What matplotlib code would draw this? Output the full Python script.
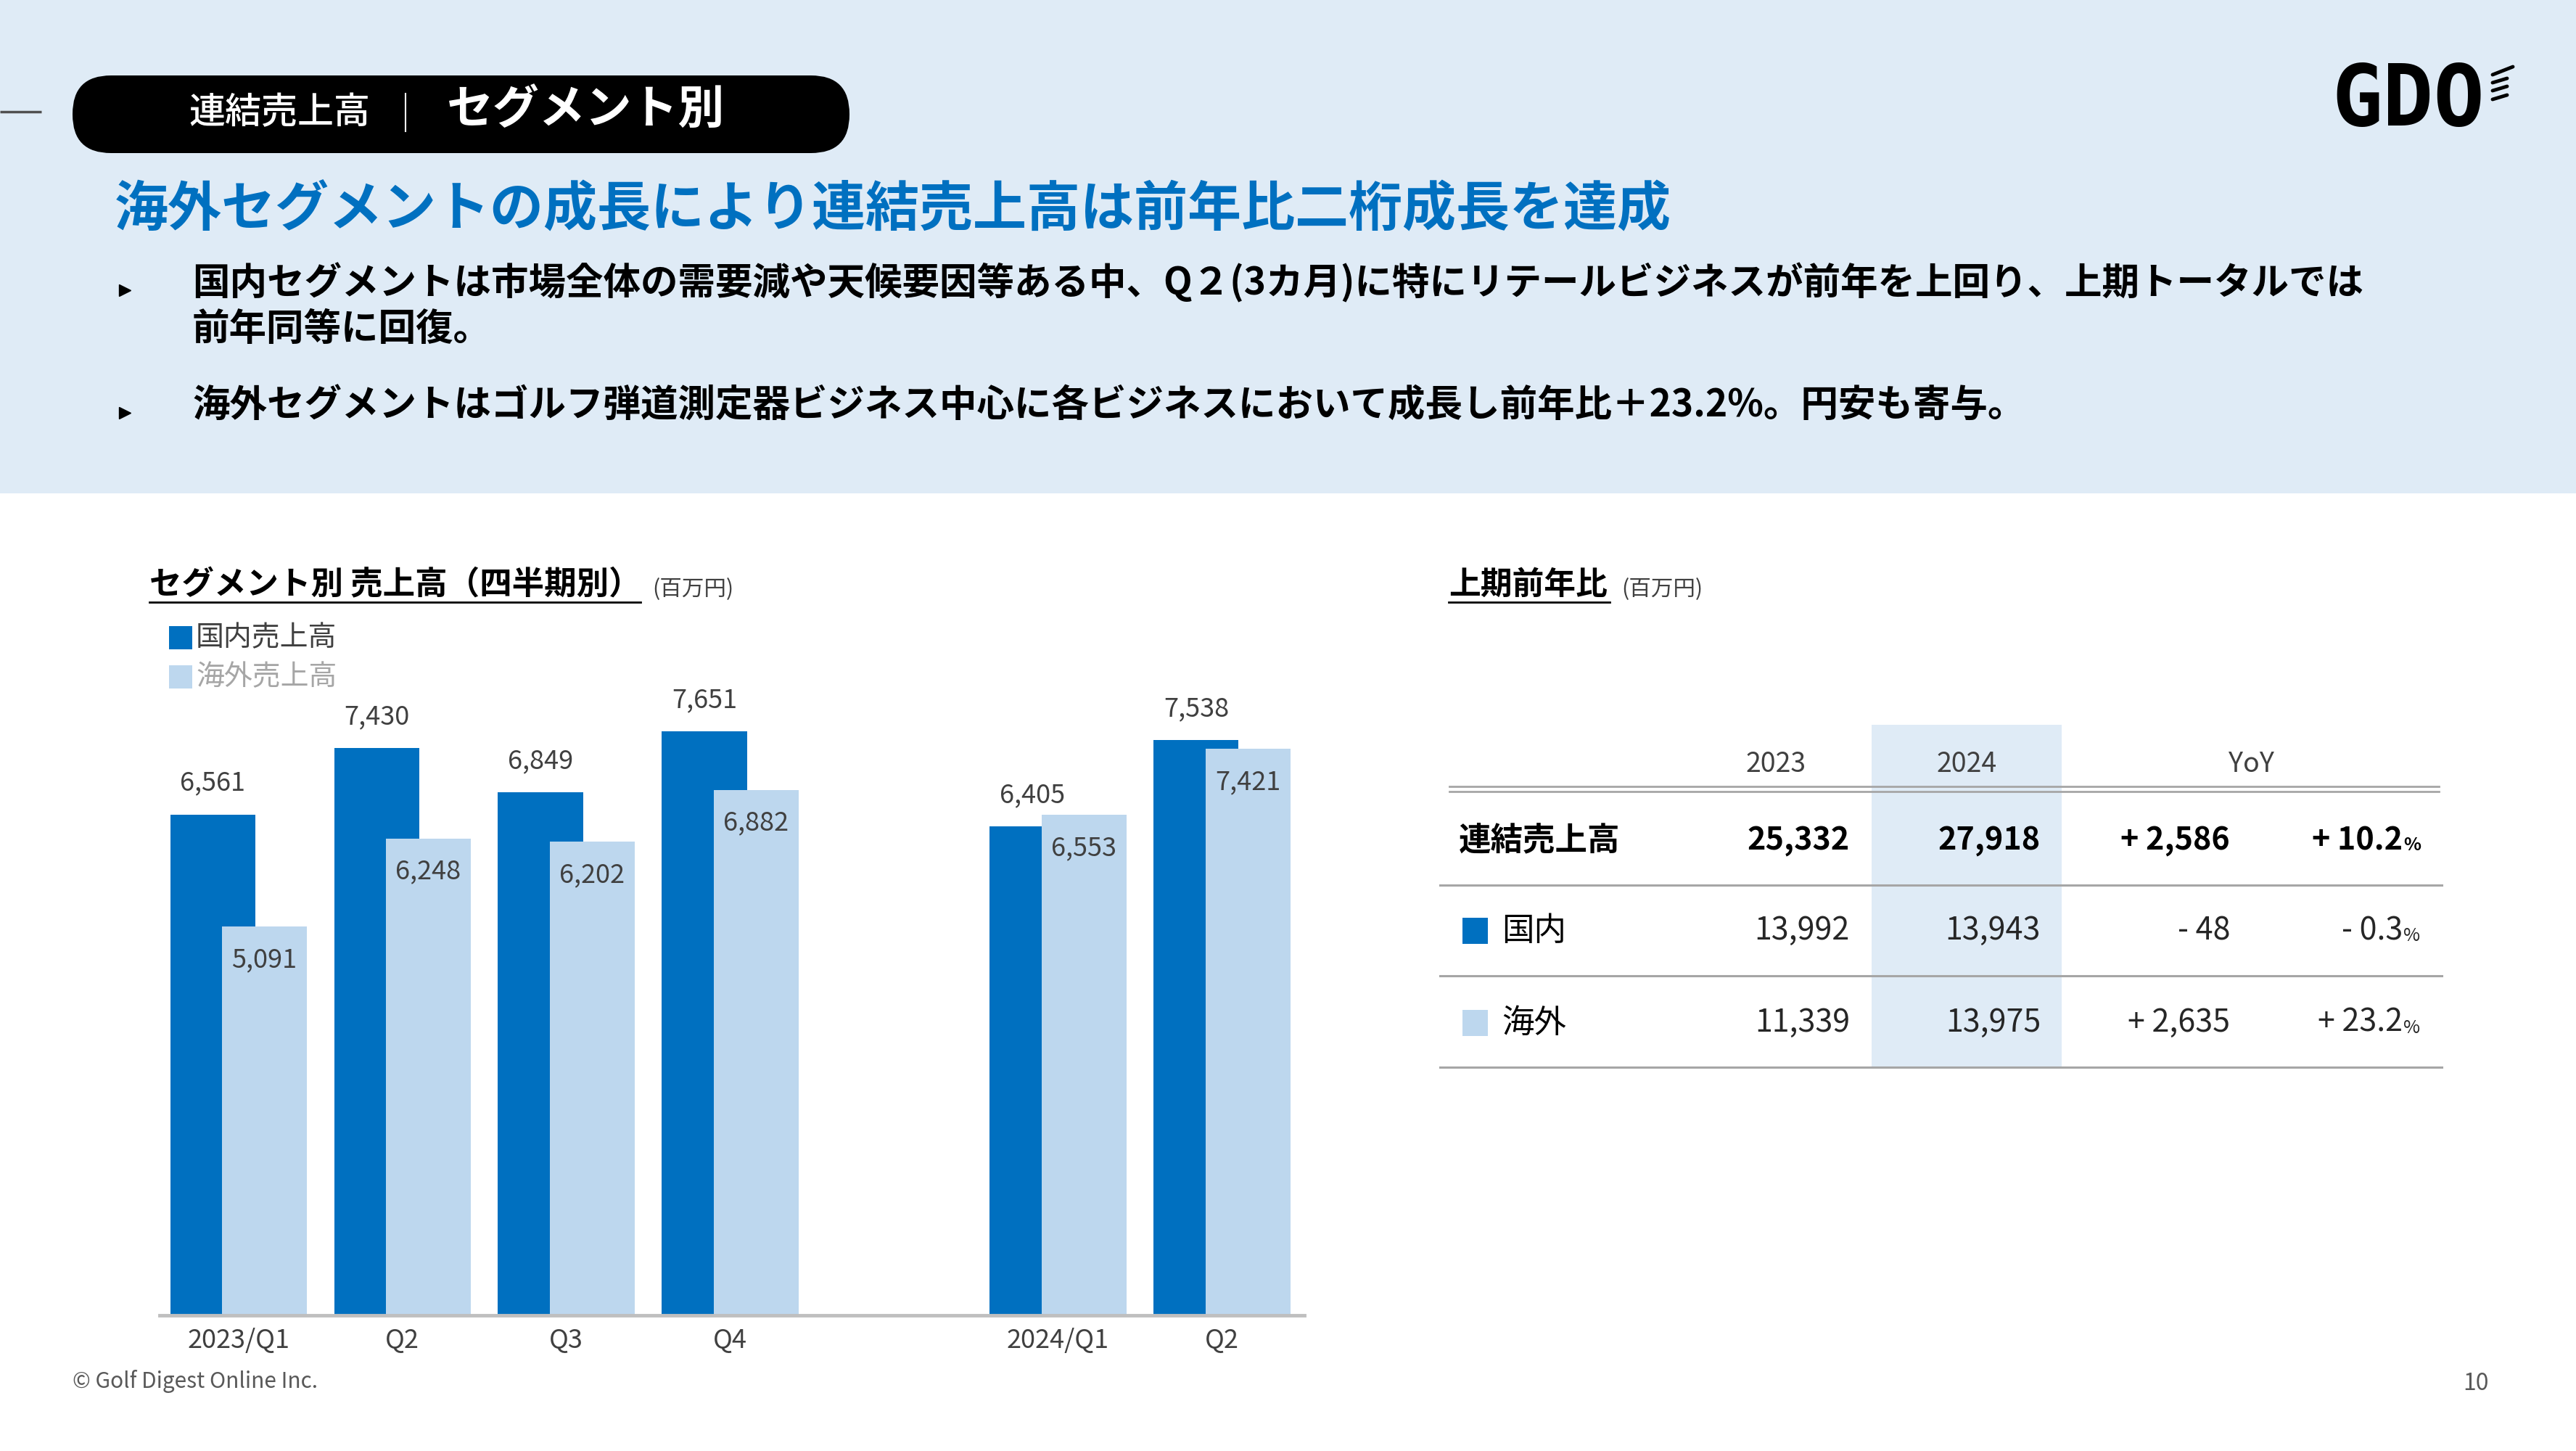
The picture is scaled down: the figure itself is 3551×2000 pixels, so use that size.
import numpy as np
import matplotlib
matplotlib.use("Agg")
import matplotlib.pyplot as plt
from matplotlib.patches import Rectangle, FancyBboxPatch

plt.rcParams['font.family'] = ['Noto Sans CJK JP', 'DejaVu Sans']

# ---------------- data ----------------
quarters = ['2023/Q1', 'Q2', 'Q3', 'Q4', '2024/Q1', 'Q2']
domestic = [6561, 7430, 6849, 7651, 6405, 7538]
overseas = [5091, 6248, 6202, 6882, 6553, 7421]
series_names = ['国内売上高', '海外売上高']

table_years = ['2023', '2024']
table_rows = ['連結売上高', '国内', '海外']
h1_2023 = [25332, 13992, 11339]
h1_2024 = [27918, 13943, 13975]
yoy_diff = [2586, -48, 2635]
yoy_pct = [10.2, -0.3, 23.2]

headline = '海外セグメントの成長により連結売上高は前年比二桁成長を達成'
bullets = [
    ['国内セグメントは市場全体の需要減や天候要因等ある中、Q２(3カ月)に特にリテールビジネスが前年を上回り、上期トータルでは',
     '前年同等に回復。'],
    ['海外セグメントはゴルフ弾道測定器ビジネス中心に各ビジネスにおいて成長し前年比＋23.2%。円安も寄与。'],
]

DARK = '#0070C0'
LIGHT = '#BDD7EE'
BAND = '#DFEBF6'
TXT = '#404040'

W, H = 3551, 2000
fig = plt.figure(figsize=(W / 100, H / 100), dpi=100)
fig.patch.set_facecolor('white')

# overlay axes in pixel coordinates for slide decoration
bg = fig.add_axes([0, 0, 1, 1], zorder=0)
bg.set_xlim(0, W)
bg.set_ylim(H, 0)
bg.axis('off')

# header band
bg.add_patch(Rectangle((0, 0), W, 680, color=BAND, lw=0))
# left dash
bg.plot([0, 57], [154, 154], color='#505050', lw=2.5, solid_capstyle='butt')
# pill
bg.add_patch(FancyBboxPatch((100, 104), 1071, 107,
                            boxstyle='round,pad=0,rounding_size=53',
                            fc='black', ec='none'))
bg.text(385, 156, '連結売上高', color='white', fontsize=36, fontweight='medium',
        ha='center', va='center')
bg.plot([559, 559], [129, 181], color='white', lw=1.5)
bg.text(616, 152, 'セグメント別', color='white', fontsize=46, fontweight='bold',
        ha='left', va='center')

# logo
bg.text(3320, 140, 'GDO', family='DejaVu Sans Mono', fontweight='bold',
        fontsize=84, ha='center', va='center', color='black')
for (x0, y0, x1, y1) in [(3436, 103, 3464, 92), (3436, 114, 3456, 108),
                         (3436, 125, 3456, 119), (3436, 137, 3456, 131)]:
    bg.plot([x0, x1], [y0, y1], color='black', lw=3.5, solid_capstyle='round')

# headline
bg.text(158, 290, headline, color=DARK, fontsize=53.3, fontweight='bold',
        ha='left', va='center')

# bullets
line_y = [[390, 453], [559]]
for blines, ys in zip(bullets, line_y):
    bg.plot([172], [ys[0] + 10], marker='>', color='black', markersize=11)
    for t, y in zip(blines, ys):
        bg.text(265, y, t, fontsize=37.1, fontweight='bold', color='black',
                ha='left', va='center')

# chart title + legend
bg.text(206, 806, 'セグメント別 売上高（四半期別）', fontsize=32, fontweight='bold',
        ha='left', va='center', color='black')
bg.plot([206, 883], [830, 830], color='black', lw=2)
bg.text(899, 813, '(百万円)', fontsize=22, ha='left', va='center', color=TXT)
for i, (name, c, tc) in enumerate(zip(series_names, [DARK, LIGHT], [TXT, '#A6A6A6'])):
    y = 879 + 54 * i
    bg.add_patch(Rectangle((233, y - 16), 32, 32, color=c, lw=0))
    bg.text(270, y, name, fontsize=28, color=tc, ha='left', va='center')

# table title
bg.text(1997, 806, '上期前年比', fontsize=31.5, fontweight='bold', ha='left',
        va='center', color='black')
bg.plot([1997, 2219], [830, 830], color='black', lw=2)
bg.text(2235, 813, '(百万円)', fontsize=22, ha='left', va='center', color=TXT)

# table
bg.add_patch(Rectangle((2580, 999), 262, 471, color=BAND, lw=0))
bg.text(2448, 1054, table_years[0], fontsize=27, ha='center', va='center', color=TXT)
bg.text(2711, 1054, table_years[1], fontsize=27, ha='center', va='center', color=TXT)
bg.text(3103, 1054, 'YoY', fontsize=27, ha='center', va='center', color=TXT)
bg.plot([1998, 3362], [1084, 1084], color='#A6A6A6', lw=2)
bg.plot([1998, 3362], [1091, 1091], color='#A6A6A6', lw=2)
for y in [1220, 1345, 1471]:
    bg.plot([1985, 3366], [y, y], color='#A6A6A6', lw=2.2)

row_y = [1158, 1283, 1410]
for i, name in enumerate(table_rows):
    y = row_y[i]
    bold = 'bold' if i == 0 else 'normal'
    col = 'black' if i == 0 else '#262626'
    if i == 0:
        bg.text(2011, y, name, fontsize=32, fontweight='bold', ha='left', va='center', color='black')
    else:
        bg.add_patch(Rectangle((2016, y - 18), 35, 36, color=[DARK, LIGHT][i - 1], lw=0))
        bg.text(2070, y, name, fontsize=32, ha='left', va='center', color='black')
    bg.text(2550, y, f'{h1_2023[i]:,}', fontsize=31, fontweight=bold, ha='right', va='center', color=col)
    bg.text(2813, y, f'{h1_2024[i]:,}', fontsize=31, fontweight=bold, ha='right', va='center', color=col)
    d = yoy_diff[i]
    sgn = '+' if d >= 0 else '-'
    bg.text(3074, y, f'{sgn} {abs(d):,}', fontsize=31, fontweight=bold, ha='right', va='center', color=col)
    p = yoy_pct[i]
    sgn = '+' if p >= 0 else '-'
    bg.text(3312, y, f'{sgn} {abs(p):.1f}', fontsize=31, fontweight=bold, ha='right', va='center', color=col)
    bg.text(3313, y + 7, '%', fontsize=18, fontweight=bold, ha='left', va='center', color=col)

# footer
bg.text(100, 1904, '© Golf Digest Online Inc.', fontsize=21.5, color='#595959', ha='left', va='center')
bg.text(3413, 1907, '10', fontsize=23, color='#595959', ha='center', va='center')

# ---------------- bar chart ----------------
ax = fig.add_axes([219.5 / W, 1 - 1813 / H, 1578 / W, 947 / H], zorder=2)
ax.patch.set_alpha(0)
idx = np.arange(len(quarters))
xpos = idx + (idx >= 4)  # gap between fiscal years
off, bw = 0.1575, 0.518
ax.bar(xpos - off, domestic, width=bw, color=DARK, zorder=2)
ax.bar(xpos + off, overseas, width=bw, color=LIGHT, zorder=3)
for x, v in zip(xpos, domestic):
    ax.annotate(f'{v:,}', (x - off, v), xytext=(0, 31), textcoords='offset points',
                ha='center', va='center', fontsize=26, color=TXT, zorder=4)
for x, v in zip(xpos, overseas):
    ax.annotate(f'{v:,}', (x + off, v), xytext=(0, -33), textcoords='offset points',
                ha='center', va='center', fontsize=26, color=TXT, zorder=4)
ax.set_xlim(-0.483, 6.50)
ax.set_ylim(0, 9000)
ax.set_xticks(xpos)
ax.set_xticklabels(quarters, fontsize=26, color=TXT)
ax.tick_params(axis='x', length=0, pad=12)
ax.set_yticks([])
for s in ['top', 'right', 'left']:
    ax.spines[s].set_visible(False)
ax.spines['bottom'].set_color('#BFBFBF')
ax.spines['bottom'].set_linewidth(3.5)
ax.spines['bottom'].set_zorder(5)

fig.savefig('out.png', dpi=100, facecolor='white')
